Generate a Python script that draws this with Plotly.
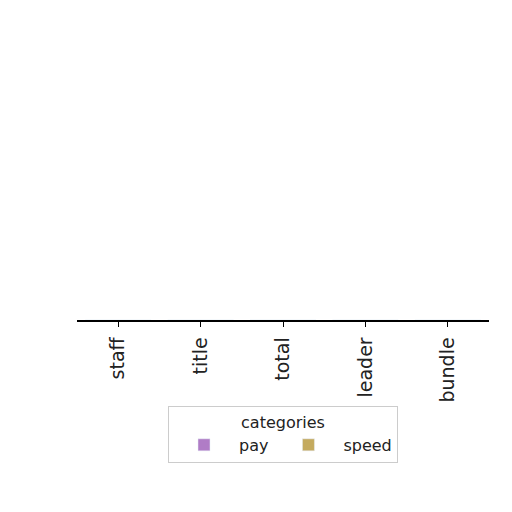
import plotly.graph_objects as go

categories = ["staff", "title", "total", "leader", "bundle"]
pay = [0, 0, 0, 0, 0]
speed = [0, 0, 0, 0, 0]

fig = go.Figure()
fig.add_trace(go.Bar(x=categories, y=pay, name="pay", marker_color="#b07cc6"))
fig.add_trace(go.Bar(x=categories, y=speed, name="speed", marker_color="#c4aa5e"))

fig.update_layout(
    width=512, height=512,
    margin=dict(l=69, r=31, t=12, b=200),
    plot_bgcolor="white", paper_bgcolor="white",
    font=dict(family="DejaVu Sans", color="#222222"),
    barmode="group",
    showlegend=True,
    legend=dict(
        orientation="h",
        x=0.5, xanchor="center",
        y=-0.287, yanchor="top",
        title=dict(text="categories", side="top center", font=dict(size=16)),
        font=dict(size=16),
        bordercolor="#cccccc", borderwidth=1,
        bgcolor="white",
        itemwidth=60,
    ),
    xaxis=dict(
        showline=True, linecolor="black", linewidth=1.5,
        ticks="outside", ticklen=5, tickcolor="black",
        tickangle=-90, tickfont=dict(size=19),
        ticklabelstandoff=3,
        showgrid=False, zeroline=False,
    ),
    yaxis=dict(visible=False, range=[0, 1]),
)

fig.write_html("out.html")
